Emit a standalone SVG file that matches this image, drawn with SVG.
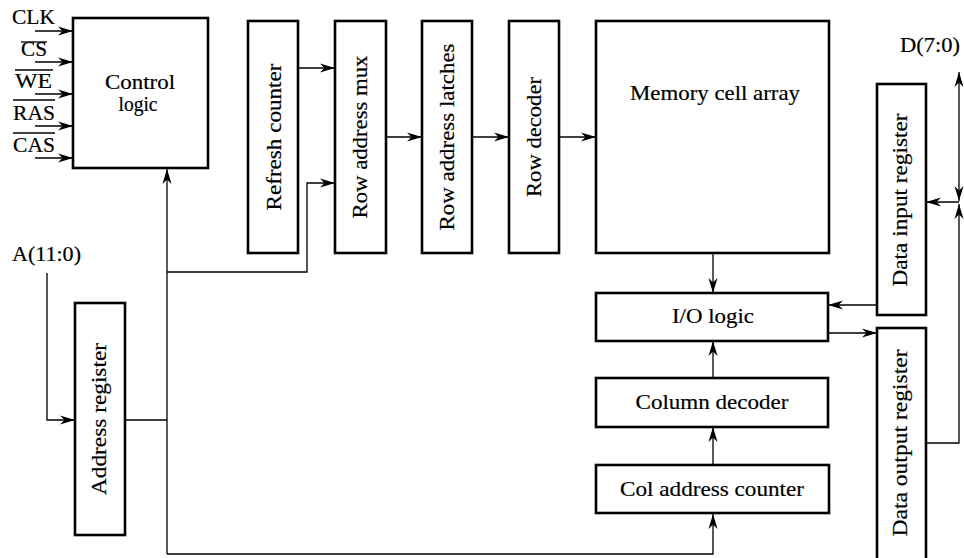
<svg xmlns="http://www.w3.org/2000/svg" width="964" height="558" viewBox="0 0 964 558">
<style>
.box{fill:#fff;stroke:#000;stroke-width:2.6}
.ln{fill:none;stroke:#000;stroke-width:1.3}
.ar{fill:none;stroke:#000;stroke-width:1.3;marker-end:url(#ah)}
.t{font-family:"Liberation Serif","Times New Roman",serif;font-size:21.5px;fill:#000;stroke:#000;stroke-width:0.2}
.c{text-anchor:middle}
</style>
<defs>
<marker id="ah" markerUnits="userSpaceOnUse" markerWidth="16" markerHeight="10" refX="15" refY="5" orient="auto-start-reverse">
<path d="M0,0.5 L15,5 L0,9.5 L4.5,5 z" fill="#000"/>
</marker>
</defs>
<rect width="964" height="558" fill="#fff"/>

<g id="connectors">
<line class="ar" x1="35" y1="31" x2="73" y2="31"/>
<line class="ar" x1="35" y1="62" x2="73" y2="62"/>
<line class="ar" x1="35" y1="94" x2="73" y2="94"/>
<line class="ar" x1="35" y1="126" x2="73" y2="126"/>
<line class="ar" x1="35" y1="158" x2="73" y2="158"/>
<polyline class="ar" points="47,273 47,420 75,420"/>
<line class="ln" x1="125" y1="420" x2="167" y2="420"/>
<line class="ar" x1="167" y1="554" x2="167" y2="169"/>
<polyline class="ar" points="167,272 307,272 307,183 335,183"/>
<polyline class="ar" points="167,554 713,554 713,514"/>
<line class="ar" x1="298" y1="68" x2="335" y2="68"/>
<line class="ar" x1="386" y1="137" x2="422" y2="137"/>
<line class="ar" x1="472" y1="137" x2="509" y2="137"/>
<line class="ar" x1="559" y1="137" x2="596" y2="137"/>
<line class="ar" x1="713" y1="253" x2="713" y2="293"/>
<line class="ar" x1="713" y1="378" x2="713" y2="341"/>
<line class="ar" x1="713" y1="465" x2="713" y2="427"/>
<line class="ar" x1="877" y1="305" x2="828" y2="305"/>
<line class="ar" x1="828" y1="333" x2="877" y2="333"/>
<line class="ar" x1="959" y1="201" x2="959" y2="72" style="marker-start:url(#ah)"/>
<polyline class="ar" points="926,443 959,443 959,204"/>
<line class="ar" x1="959" y1="202" x2="926" y2="202"/>
</g>

<g id="control-logic">
<rect class="box" x="73" y="18" width="135" height="150"/>
<text class="t c" x="140" y="89" textLength="70" lengthAdjust="spacingAndGlyphs">Control</text>
<text class="t c" x="138" y="111" textLength="39" lengthAdjust="spacingAndGlyphs">logic</text>
</g>

<g id="control-inputs">
<text class="t" x="12" y="24" textLength="43" lengthAdjust="spacingAndGlyphs">CLK</text>
<text class="t" x="21" y="56" textLength="26" lengthAdjust="spacingAndGlyphs">CS</text>
<line class="ln" x1="21" y1="42" x2="47" y2="42"/>
<text class="t" x="15" y="88" textLength="37" lengthAdjust="spacingAndGlyphs">WE</text>
<line class="ln" x1="15" y1="70" x2="53" y2="70"/>
<text class="t" x="13" y="120" textLength="42" lengthAdjust="spacingAndGlyphs">RAS</text>
<line class="ln" x1="13" y1="100" x2="55" y2="100"/>
<text class="t" x="13" y="152" textLength="42" lengthAdjust="spacingAndGlyphs">CAS</text>
<line class="ln" x1="13" y1="133" x2="55" y2="133"/>
</g>

<g id="a-label">
<text class="t" x="12" y="261" textLength="69" lengthAdjust="spacingAndGlyphs">A(11:0)</text>
</g>

<g id="address-register">
<rect class="box" x="75" y="303" width="50" height="232"/>
<text class="t c" transform="translate(106,419) rotate(-90)" textLength="152" lengthAdjust="spacingAndGlyphs">Address register</text>
</g>

<g id="refresh-counter">
<rect class="box" x="248" y="21" width="50" height="232"/>
<text class="t c" transform="translate(281,137) rotate(-90)" textLength="147" lengthAdjust="spacingAndGlyphs">Refresh counter</text>
</g>

<g id="row-address-mux">
<rect class="box" x="335" y="21" width="51" height="232"/>
<text class="t c" transform="translate(367,137) rotate(-90)" textLength="163" lengthAdjust="spacingAndGlyphs">Row address mux</text>
</g>

<g id="row-address-latches">
<rect class="box" x="422" y="21" width="50" height="232"/>
<text class="t c" transform="translate(454,137) rotate(-90)" textLength="187" lengthAdjust="spacingAndGlyphs">Row address latches</text>
</g>

<g id="row-decoder">
<rect class="box" x="509" y="21" width="50" height="232"/>
<text class="t c" transform="translate(541,137) rotate(-90)" textLength="120" lengthAdjust="spacingAndGlyphs">Row decoder</text>
</g>

<g id="memory-cell-array">
<rect class="box" x="596" y="21" width="233" height="232"/>
<text class="t c" x="715" y="100" textLength="170" lengthAdjust="spacingAndGlyphs">Memory cell array</text>
</g>

<g id="io-logic">
<rect class="box" x="596" y="293" width="232" height="48"/>
<text class="t c" x="713" y="323" textLength="82" lengthAdjust="spacingAndGlyphs">I/O logic</text>
</g>

<g id="column-decoder">
<rect class="box" x="596" y="378" width="232" height="49"/>
<text class="t c" x="712" y="409" textLength="153" lengthAdjust="spacingAndGlyphs">Column decoder</text>
</g>

<g id="col-address-counter">
<rect class="box" x="596" y="465" width="233" height="48"/>
<text class="t c" x="712" y="496" textLength="184" lengthAdjust="spacingAndGlyphs">Col address counter</text>
</g>

<g id="data-input-register">
<rect class="box" x="877" y="84" width="49" height="231"/>
<text class="t c" transform="translate(907,200) rotate(-90)" textLength="173" lengthAdjust="spacingAndGlyphs">Data input register</text>
</g>

<g id="data-output-register">
<rect class="box" x="877" y="328" width="49" height="240"/>
<text class="t c" transform="translate(907,443) rotate(-90)" textLength="187" lengthAdjust="spacingAndGlyphs">Data output register</text>
</g>

<g id="d-label">
<text class="t" x="900" y="52" textLength="60" lengthAdjust="spacingAndGlyphs">D(7:0)</text>
</g>
</svg>
